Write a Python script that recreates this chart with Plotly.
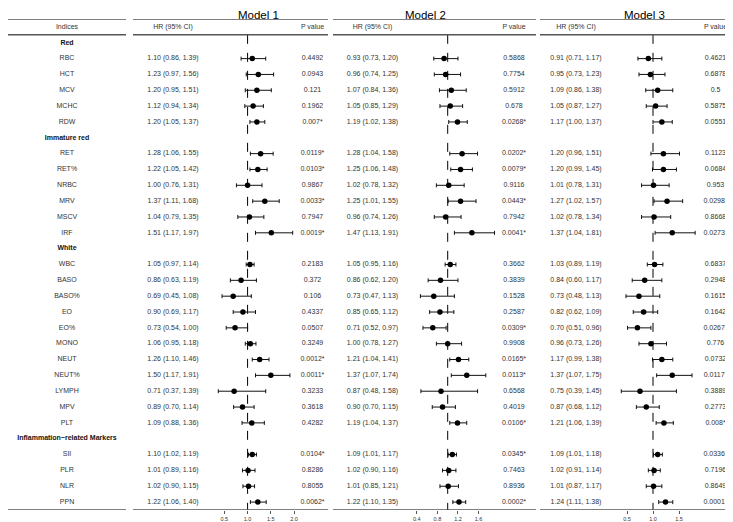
import plotly.graph_objects as go

# ---------------- data ----------------
groups = ["Red", "Immature red", "White", "Inflammation\u2212related Markers"]
markers = [
    ["RBC", "HCT", "MCV", "MCHC", "RDW"],
    ["RET", "RET%", "NRBC", "MRV", "MSCV", "IRF"],
    ["WBC", "BASO", "BASO%", "EO", "EO%", "MONO", "NEUT", "NEUT%", "LYMPH", "MPV", "PLT"],
    ["SII", "PLR", "NLR", "PPN"],
]

model_names = ["Model 1", "Model 2", "Model 3"]

m1_hr = [1.10, 1.23, 1.20, 1.12, 1.20, 1.28, 1.22, 1.00, 1.37, 1.04, 1.51,
         1.05, 0.86, 0.69, 0.90, 0.73, 1.06, 1.26, 1.50, 0.71, 0.89, 1.09,
         1.10, 1.01, 1.02, 1.22]
m1_lo = [0.86, 0.97, 0.95, 0.94, 1.05, 1.06, 1.05, 0.76, 1.11, 0.79, 1.17,
         0.97, 0.63, 0.45, 0.69, 0.54, 0.95, 1.10, 1.17, 0.37, 0.70, 0.88,
         1.02, 0.89, 0.90, 1.06]
m1_hi = [1.39, 1.56, 1.51, 1.34, 1.37, 1.55, 1.42, 1.31, 1.68, 1.35, 1.97,
         1.14, 1.19, 1.08, 1.17, 1.00, 1.18, 1.46, 1.91, 1.39, 1.14, 1.36,
         1.19, 1.16, 1.15, 1.40]
m1_p = ["0.4492", "0.0943", "0.121", "0.1962", "0.007*", "0.0119*", "0.0103*",
        "0.9867", "0.0033*", "0.7947", "0.0019*", "0.2183", "0.372", "0.106",
        "0.4337", "0.0507", "0.3249", "0.0012*", "0.0011*", "0.3233", "0.3618",
        "0.4282", "0.0104*", "0.8286", "0.8055", "0.0062*"]

m2_hr = [0.93, 0.96, 1.07, 1.05, 1.19, 1.28, 1.25, 1.02, 1.25, 0.96, 1.47,
         1.05, 0.86, 0.73, 0.85, 0.71, 1.00, 1.21, 1.37, 0.87, 0.90, 1.19,
         1.09, 1.02, 1.01, 1.22]
m2_lo = [0.73, 0.74, 0.84, 0.85, 1.02, 1.04, 1.06, 0.78, 1.01, 0.74, 1.13,
         0.95, 0.62, 0.47, 0.65, 0.52, 0.78, 1.04, 1.07, 0.48, 0.70, 1.04,
         1.01, 0.90, 0.85, 1.10]
m2_hi = [1.20, 1.25, 1.36, 1.29, 1.38, 1.58, 1.48, 1.32, 1.55, 1.26, 1.91,
         1.16, 1.20, 1.13, 1.12, 0.97, 1.27, 1.41, 1.74, 1.58, 1.15, 1.37,
         1.17, 1.16, 1.21, 1.35]
m2_p = ["0.5868", "0.7754", "0.5912", "0.678", "0.0268*", "0.0202*", "0.0079*",
        "0.9116", "0.0443*", "0.7942", "0.0041*", "0.3662", "0.3839", "0.1528",
        "0.2587", "0.0309*", "0.9908", "0.0165*", "0.0113*", "0.6568", "0.4019",
        "0.0106*", "0.0345*", "0.7463", "0.8936", "0.0002*"]

m3_hr = [0.91, 0.95, 1.09, 1.05, 1.17, 1.20, 1.20, 1.01, 1.27, 1.02, 1.37,
         1.03, 0.84, 0.73, 0.82, 0.70, 0.96, 1.17, 1.37, 0.75, 0.87, 1.21,
         1.09, 1.02, 1.01, 1.24]
m3_lo = [0.71, 0.73, 0.86, 0.87, 1.00, 0.96, 0.99, 0.78, 1.02, 0.78, 1.04,
         0.89, 0.60, 0.48, 0.62, 0.51, 0.73, 0.99, 1.07, 0.39, 0.68, 1.06,
         1.01, 0.91, 0.87, 1.11]
m3_hi = [1.17, 1.23, 1.38, 1.27, 1.37, 1.51, 1.45, 1.31, 1.57, 1.34, 1.81,
         1.19, 1.17, 1.13, 1.09, 0.96, 1.26, 1.38, 1.75, 1.45, 1.12, 1.39,
         1.18, 1.14, 1.17, 1.38]
m3_p = ["0.4621", "0.6878", "0.5", "0.5875", "0.0551", "0.1123", "0.0684",
        "0.953", "0.0298*", "0.8668", "0.0273*", "0.6837", "0.2948", "0.1615",
        "0.1642", "0.0267*", "0.776", "0.0732", "0.0117*", "0.3889", "0.2773",
        "0.008*", "0.0336*", "0.7196", "0.8649", "0.0001*"]

ticks1 = [0.5, 1.0, 1.5, 2.0]
ticks2 = [0.4, 0.8, 1.2, 1.6]
ticks3 = [0.5, 1.0, 1.5]

header_labels = ["Indices", "HR (95% CI)", "P value"]

# ---------------- layout geometry ----------------
# the page places the figure 8 px in from the top-left corner of the window
OFF = 8
WIN_W, WIN_H = 733, 522
W, H = WIN_W - OFF, WIN_H - OFF
TOP, BOT = 19, 513            # window pixels of the top and bottom table rules
MT = TOP - OFF
MB = H - (BOT - OFF)
plot_h = H - MT - MB


def px(a, b):
    return [max(a - OFF, 0) / W, min(b - OFF, W) / W]


def pxs(a):
    return max(a - OFF, 0) / W


def py(p):
    return (BOT - p) / plot_h


# per model: HR column, forest, P column (window-pixel domains), forest range
panels = [
    dict(hr=(140, 206), fp=(207, 298), pv=(299, 326), rng=[0.127, 2.084], ticks=ticks1,
         seg=(133, 328), title_x=258),
    dict(hr=(341, 404), fp=(405, 500), pv=(501, 527), rng=[0.171, 2.016], ticks=ticks2,
         seg=(333, 536), title_x=426),
    dict(hr=(549, 603), fp=(606, 702), pv=(703, 728), rng=[0.096, 1.942], ticks=ticks3,
         seg=(540, 733), title_x=644),
]
models = [
    (m1_hr, m1_lo, m1_hi, m1_p),
    (m2_hr, m2_lo, m2_hi, m2_p),
    (m3_hr, m3_lo, m3_hi, m3_p),
]

# ---------------- rows ----------------
row_labels, group_rows, marker_rows = [], [], []
r = 0
for g, ms in zip(groups, markers):
    row_labels.append(g)
    group_rows.append(r)
    r += 1
    for m in ms:
        row_labels.append(m)
        marker_rows.append(r)
        r += 1
n_rows = r

FONT = "Liberation Sans, Arial, sans-serif"
TXT = "#333333"
LINE = "#555555"

fig = go.Figure()

# indices column
fig.add_trace(go.Scatter(
    x=[0.5] * len(marker_rows), y=marker_rows,
    text=[row_labels[i] for i in marker_rows], mode="text",
    textfont=dict(size=7, color=TXT, family=FONT),
    xaxis="x", yaxis="y", cliponaxis=False, hoverinfo="skip"))
fig.add_trace(go.Scatter(
    x=[0.5] * len(group_rows), y=group_rows,
    text=["<b>%s</b>" % row_labels[i] for i in group_rows], mode="text",
    textfont=dict(size=7, color="#111111", family=FONT),
    xaxis="x", yaxis="y", cliponaxis=False, hoverinfo="skip"))
fig.add_trace(go.Scatter(
    x=[0.5], y=[-1], text=[header_labels[0]], mode="text",
    textfont=dict(size=7, color=TXT, family=FONT),
    xaxis="x", yaxis="y", cliponaxis=False, hoverinfo="skip"))

layout_axes = {
    "xaxis": dict(domain=px(0, 126), range=[0, 1], visible=False, anchor="y", fixedrange=True),
}

shapes = []
annotations = []

# horizontal rules for the indices column
for yy in (-1.5, -0.5, n_rows - 0.5):
    shapes.append(dict(type="line", xref="paper", yref="y", x0=0, x1=pxs(126), y0=yy, y1=yy,
                       line=dict(color=LINE, width=1.5)))

ax_i = 2
for k, (pan, (hr, lo, hi, pv)) in enumerate(zip(panels, models)):
    a_hr, a_fp, a_pv = ax_i, ax_i + 1, ax_i + 2
    ax_i += 3
    n_hr, n_fp, n_pv = "x%d" % a_hr, "x%d" % a_fp, "x%d" % a_pv

    hr_text = ["%.2f (%.2f, %.2f)" % (h, l, u) for h, l, u in zip(hr, lo, hi)]

    # HR text column
    fig.add_trace(go.Scatter(
        x=[0.5] * len(marker_rows) + [0.5], y=marker_rows + [-1],
        text=hr_text + [header_labels[1]], mode="text",
        textfont=dict(size=7, color=TXT, family=FONT),
        xaxis=n_hr, yaxis="y", cliponaxis=False, hoverinfo="skip"))
    # P column
    fig.add_trace(go.Scatter(
        x=[0.5] * len(marker_rows) + [0.5], y=marker_rows + [-1],
        text=pv + [header_labels[2]], mode="text",
        textfont=dict(size=7, color=TXT, family=FONT),
        xaxis=n_pv, yaxis="y", cliponaxis=False, hoverinfo="skip"))
    # forest
    fig.add_trace(go.Scatter(
        x=hr, y=marker_rows, mode="markers",
        marker=dict(size=5.5, color="black"),
        error_x=dict(type="data", symmetric=False,
                     array=[u - h for h, u in zip(hr, hi)],
                     arrayminus=[h - l for h, l in zip(hr, lo)],
                     color="#111111", thickness=1, width=2),
        xaxis=n_fp, yaxis="y", cliponaxis=False, hoverinfo="skip"))

    layout_axes["xaxis%d" % a_hr] = dict(domain=px(*pan["hr"]), range=[0, 1], visible=False,
                                         anchor="y", fixedrange=True)
    layout_axes["xaxis%d" % a_pv] = dict(domain=px(*pan["pv"]), range=[0, 1], visible=False,
                                         anchor="y", fixedrange=True)
    layout_axes["xaxis%d" % a_fp] = dict(
        domain=px(*pan["fp"]), range=pan["rng"], anchor="y",
        showgrid=False, zeroline=False, showline=False,
        ticks="outside", ticklen=3, tickwidth=1, tickcolor=LINE,
        tickvals=pan["ticks"], ticktext=["%.1f" % t for t in pan["ticks"]],
        tickfont=dict(size=5.5, color=TXT, family=FONT), fixedrange=True)

    # dashed reference line at HR = 1
    shapes.append(dict(type="line", xref=n_fp, yref="y", x0=1, x1=1, y0=-0.5, y1=n_rows - 0.5,
                       line=dict(color="black", width=1, dash="dash"), layer="below"))
    # horizontal rules
    s0, s1 = pan["seg"]
    for yy in (-1.5, -0.5, n_rows - 0.5):
        shapes.append(dict(type="line", xref="paper", yref="y", x0=pxs(s0), x1=min(pxs(s1), 1),
                           y0=yy, y1=yy, line=dict(color=LINE, width=1.5)))
    # title
    annotations.append(dict(text=model_names[k], xref="paper", yref="paper",
                            x=pxs(pan["title_x"]), y=py(14.6), xanchor="center", yanchor="middle",
                            showarrow=False, borderpad=0,
                            font=dict(size=11.5, color="black", family=FONT)))

fig.update_layout(
    width=W, height=H,
    margin=dict(l=0, r=0, t=MT, b=MB),
    paper_bgcolor="white", plot_bgcolor="white",
    showlegend=False,
    yaxis=dict(range=[n_rows - 0.5, -1.5], visible=False, fixedrange=True),
    shapes=shapes, annotations=annotations,
    **layout_axes,
)

fig.write_html("out.html")
